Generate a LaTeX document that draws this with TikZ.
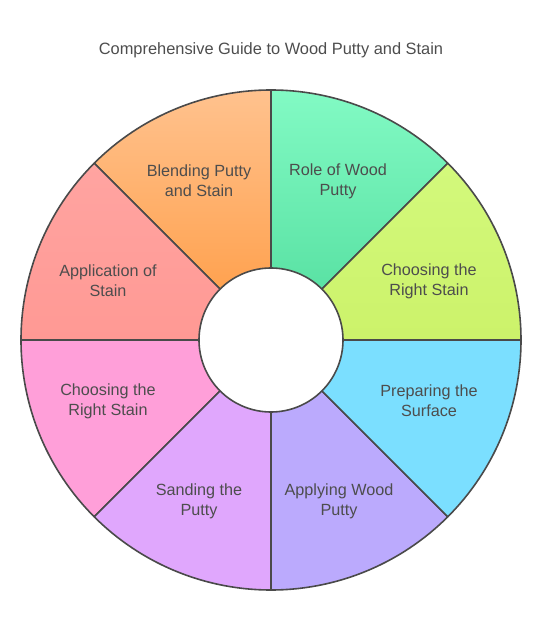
\documentclass[tikz,border=0pt]{standalone}
\usepackage{fontspec}
\setmainfont{Liberation Sans}
\definecolor{linegray}{HTML}{4A4A4A}
\definecolor{textgray}{HTML}{4D4D4D}
\definecolor{orangeT}{HTML}{FFC28E}
\definecolor{orangeB}{HTML}{FFA250}
\definecolor{greenT}{HTML}{82FAC4}
\definecolor{greenB}{HTML}{5AE2A4}
\definecolor{limeT}{HTML}{D3F97C}
\definecolor{limeB}{HTML}{CCF26A}
\definecolor{salmonT}{HTML}{FFA4A1}
\definecolor{salmonB}{HTML}{FF9994}
\definecolor{pinkF}{HTML}{FF9FD9}
\definecolor{violetF}{HTML}{E0A7FD}
\definecolor{lavenderF}{HTML}{BBAAFD}
\definecolor{skyF}{HTML}{7BDFFF}
\tikzset{
  sector/.style={draw=linegray, line width=1.6pt, line join=round},
  label/.style={text=textgray, font=\fontsize{16.2}{20}\selectfont, align=center},
  title/.style={text=textgray, font=\fontsize{16.4}{19}\selectfont}
}
\begin{document}
\begin{tikzpicture}[x=1pt,y=1pt]
        \useasboundingbox (-271,-292) rectangle (271,340);

        % Draw sectors
        \foreach \a/\b/\ct/\cb in {90/135/orangeT/orangeB, 45/90/greenT/greenB,
                0/45/limeT/limeB, 135/180/salmonT/salmonB, 180/225/pinkF/pinkF,
                225/270/violetF/violetF, 270/315/lavenderF/lavenderF, 315/360/skyF/skyF}
          \draw[sector, top color=\ct, bottom color=\cb]
            (\a:250) arc[start angle=\a, end angle=\b, radius=250]
            -- (\b:72) arc[start angle=\b, end angle=\a, radius=72] -- cycle;

        % Define nodes
        \node[title] (T) at (0,290) {Comprehensive Guide to Wood Putty and Stain};
        \node[label] (B) at (-72,159) {Blending Putty\\and Stain};
        \node[label] (R) at (67,159) {Role of Wood\\Putty};
        \node[label] (A) at (-163,59) {Application of\\Stain};
        \node[label] (C1) at (158,59) {Choosing the\\Right Stain};
        \node[label] (C2) at (-163,-61) {Choosing the\\Right Stain};
        \node[label] (P) at (158,-61) {Preparing the\\Surface};
        \node[label] (S) at (-72,-161) {Sanding the\\Putty};
        \node[label] (W) at (68,-161) {Applying Wood\\Putty};
    \end{tikzpicture}
\end{document}
